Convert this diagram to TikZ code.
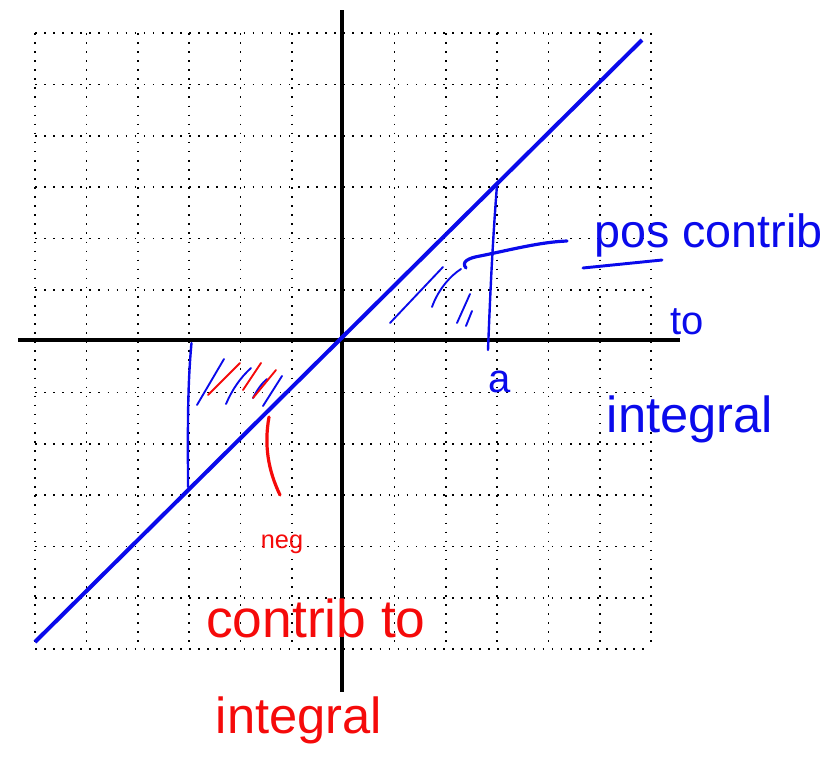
\documentclass[tikz,border=0pt]{standalone}
\usepackage{fontspec}
\setmainfont{Liberation Sans}
\begin{document}
\begin{tikzpicture}[x=0.75pt,y=-0.75pt,
  gridline/.style={black,line width=1.2pt,dash pattern=on 1.2pt off 5.6pt},
  axis/.style={black,line width=2.6pt},
  graph/.style={draw=penblue,line width=3pt},
  ink/.style={draw=penblue,line width=1.8pt,line cap=round},
  redink/.style={draw=penred,line width=1.8pt,line cap=round},
  bluetext/.style={text=penblue,inner sep=0pt},
  redtext/.style={text=penred,inner sep=0pt}]
\definecolor{penblue}{RGB}{10,10,235}
\definecolor{penred}{RGB}{245,10,10}
\useasboundingbox (0,0) rectangle (833,760);
% dotted grid
\foreach \k in {0,...,12}{
  \draw[gridline] (35+51.35*\k,33) -- (35+51.35*\k,649);
  \draw[gridline] (35,33+51.35*\k) -- (651,33+51.35*\k);
}
% axes
\draw[axis] (342,10) -- (342,692);
\draw[axis] (18,340) -- (680,340);
% graph y = x
\draw[graph] (35,642) -- (642,40);
% right boundary x = a
\draw[ink] (497,185) .. controls (492,250) and (490,300) .. (488,350);
% left boundary
\draw[ink] (191.5,343) .. controls (187,390) and (188,440) .. (188,487);
% right hatching
\draw[ink,line width=1.4pt] (390,323) -- (443,267);
\draw[ink,line width=1.4pt] (432,307) .. controls (438,290) and (450,276) .. (461,269);
\draw[ink,line width=1.4pt] (457,323) -- (470,294);
\draw[ink,line width=1.4pt] (466,326) -- (472,311);
% left hatching
\draw[ink,line width=1.4pt] (197,405) -- (224,359);
\draw[ink,line width=1.4pt] (226,404) .. controls (232,390) and (240,378) .. (251,368);
\draw[ink,line width=1.4pt] (253,398) .. controls (257,390) and (262,383) .. (267,379);
\draw[ink,line width=1.4pt] (263,406) -- (282,376);
\draw[redink,line width=1.4pt] (208,395) -- (240,363);
\draw[redink,line width=1.4pt] (243,390) -- (261,363);
\draw[redink,line width=1.4pt] (253,398) -- (276,370);
% pointers
\draw[ink,line width=2.4pt] (466,268) .. controls (461,262) and (468,258) .. (480,256) .. controls (510,250) and (540,242) .. (567,241);
\draw[ink,line width=2.2pt] (583,268) -- (662,260);
\draw[redink,line width=2.4pt] (269,417) .. controls (264,445) and (268,470) .. (280,495);
% labels
\node[bluetext,anchor=base west,font=\fontsize{35}{35}\selectfont] (pos) at (594,247) {pos contrib};
\node[bluetext,font=\fontsize{30}{30}\selectfont] (to1) at (687,322) {to};
\node[bluetext,anchor=base,font=\fontsize{38}{38}\selectfont] (int1) at (690,432) {integral};
\node[bluetext,font=\fontsize{30}{30}\selectfont] (a) at (500,382) {a};
\node[redtext,anchor=base,font=\fontsize{19}{19}\selectfont] (neg) at (282,548) {neg};
\node[redtext,anchor=base,font=\fontsize{40}{40}\selectfont] (contrib) at (316,637) {contrib to};
\node[redtext,anchor=base,font=\fontsize{38}{38}\selectfont] (int2) at (299,733) {integral};
\end{tikzpicture}
\end{document}
